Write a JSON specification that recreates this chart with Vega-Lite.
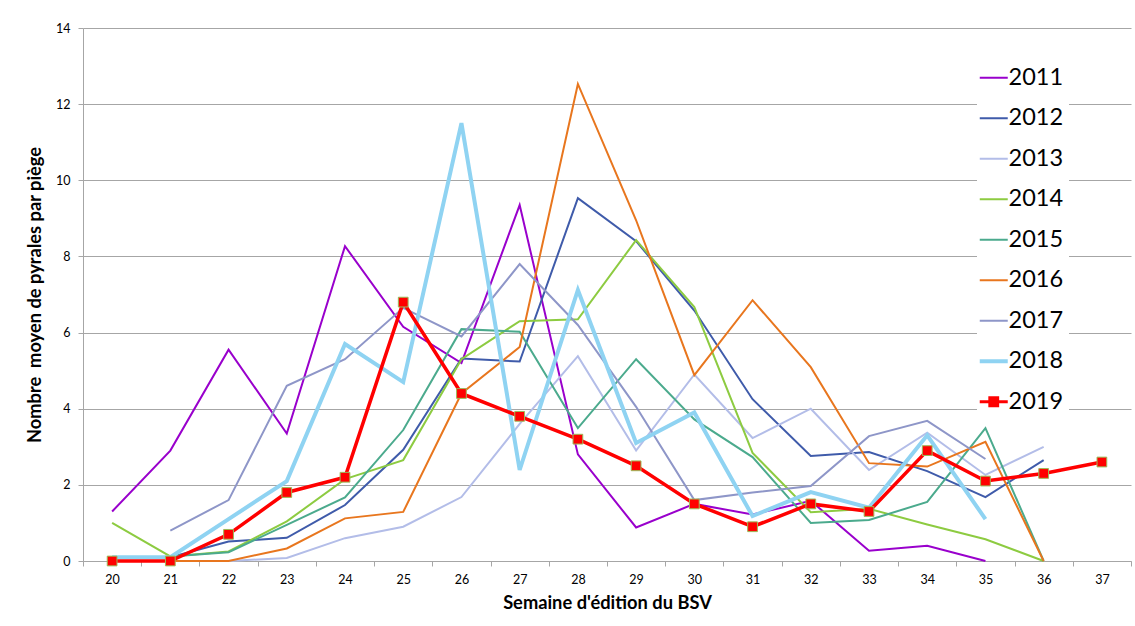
{
 "$schema": "https://vega.github.io/schema/vega-lite/v6.json",
 "width": 1048, "height": 533,
 "autosize": {"type": "none"},
 "padding": {"left": 83, "top": 28, "right": 4, "bottom": 65},
 "background": "white",
 "config": {"view": {"stroke": null}, "font": "Lato"},
 "datasets": {
  "d": [
   {"year":"2011","week":20,"value":1.3},{"year":"2011","week":21,"value":2.9},{"year":"2011","week":22,"value":5.55},{"year":"2011","week":23,"value":3.35},{"year":"2011","week":24,"value":8.27},{"year":"2011","week":25,"value":6.15},{"year":"2011","week":26,"value":5.2},{"year":"2011","week":27,"value":9.35},{"year":"2011","week":28,"value":2.8},{"year":"2011","week":29,"value":0.88},{"year":"2011","week":30,"value":1.5},{"year":"2011","week":31,"value":1.22},{"year":"2011","week":32,"value":1.58},{"year":"2011","week":33,"value":0.27},{"year":"2011","week":34,"value":0.4},{"year":"2011","week":35,"value":0},
   {"year":"2012","week":21,"value":0.1},{"year":"2012","week":22,"value":0.51},{"year":"2012","week":23,"value":0.61},{"year":"2012","week":24,"value":1.47},{"year":"2012","week":25,"value":2.92},{"year":"2012","week":26,"value":5.32},{"year":"2012","week":27,"value":5.24},{"year":"2012","week":28,"value":9.53},{"year":"2012","week":29,"value":8.4},{"year":"2012","week":30,"value":6.58},{"year":"2012","week":31,"value":4.25},{"year":"2012","week":32,"value":2.76},{"year":"2012","week":33,"value":2.86},{"year":"2012","week":34,"value":2.36},{"year":"2012","week":35,"value":1.68},{"year":"2012","week":36,"value":2.65},
   {"year":"2013","week":21,"value":0},{"year":"2013","week":22,"value":0},{"year":"2013","week":23,"value":0.08},{"year":"2013","week":24,"value":0.6},{"year":"2013","week":25,"value":0.9},{"year":"2013","week":26,"value":1.68},{"year":"2013","week":27,"value":3.6},{"year":"2013","week":28,"value":5.38},{"year":"2013","week":29,"value":2.9},{"year":"2013","week":30,"value":4.9},{"year":"2013","week":31,"value":3.23},{"year":"2013","week":32,"value":4.0},{"year":"2013","week":33,"value":2.39},{"year":"2013","week":34,"value":3.37},{"year":"2013","week":35,"value":2.26},{"year":"2013","week":36,"value":3.0},
   {"year":"2014","week":20,"value":1.0},{"year":"2014","week":21,"value":0.12},{"year":"2014","week":22,"value":0.25},{"year":"2014","week":23,"value":1.04},{"year":"2014","week":24,"value":2.15},{"year":"2014","week":25,"value":2.65},{"year":"2014","week":26,"value":5.3},{"year":"2014","week":27,"value":6.3},{"year":"2014","week":28,"value":6.35},{"year":"2014","week":29,"value":8.43},{"year":"2014","week":30,"value":6.67},{"year":"2014","week":31,"value":2.84},{"year":"2014","week":32,"value":1.28},{"year":"2014","week":33,"value":1.37},{"year":"2014","week":34,"value":0.96},{"year":"2014","week":35,"value":0.57},{"year":"2014","week":36,"value":0},
   {"year":"2015","week":21,"value":0.12},{"year":"2015","week":22,"value":0.23},{"year":"2015","week":23,"value":0.95},{"year":"2015","week":24,"value":1.67},{"year":"2015","week":25,"value":3.44},{"year":"2015","week":26,"value":6.09},{"year":"2015","week":27,"value":6.02},{"year":"2015","week":28,"value":3.49},{"year":"2015","week":29,"value":5.3},{"year":"2015","week":30,"value":3.72},{"year":"2015","week":31,"value":2.73},{"year":"2015","week":32,"value":1.0},{"year":"2015","week":33,"value":1.08},{"year":"2015","week":34,"value":1.55},{"year":"2015","week":35,"value":3.49},{"year":"2015","week":36,"value":0},
   {"year":"2016","week":21,"value":0},{"year":"2016","week":22,"value":0},{"year":"2016","week":23,"value":0.33},{"year":"2016","week":24,"value":1.12},{"year":"2016","week":25,"value":1.29},{"year":"2016","week":26,"value":4.4},{"year":"2016","week":27,"value":5.62},{"year":"2016","week":28,"value":12.53},{"year":"2016","week":29,"value":8.95},{"year":"2016","week":30,"value":4.88},{"year":"2016","week":31,"value":6.85},{"year":"2016","week":32,"value":5.09},{"year":"2016","week":33,"value":2.57},{"year":"2016","week":34,"value":2.48},{"year":"2016","week":35,"value":3.13},{"year":"2016","week":36,"value":0},
   {"year":"2017","week":21,"value":0.8},{"year":"2017","week":22,"value":1.6},{"year":"2017","week":23,"value":4.6},{"year":"2017","week":24,"value":5.3},{"year":"2017","week":25,"value":6.65},{"year":"2017","week":26,"value":5.9},{"year":"2017","week":27,"value":7.8},{"year":"2017","week":28,"value":6.2},{"year":"2017","week":29,"value":4.05},{"year":"2017","week":30,"value":1.6},{"year":"2017","week":31,"value":1.8},{"year":"2017","week":32,"value":1.97},{"year":"2017","week":33,"value":3.28},{"year":"2017","week":34,"value":3.68},{"year":"2017","week":35,"value":2.68},
   {"year":"2018","week":20,"value":0.1},{"year":"2018","week":21,"value":0.1},{"year":"2018","week":22,"value":1.1},{"year":"2018","week":23,"value":2.1},{"year":"2018","week":24,"value":5.7},{"year":"2018","week":25,"value":4.7},{"year":"2018","week":26,"value":11.5},{"year":"2018","week":27,"value":2.39},{"year":"2018","week":28,"value":7.12},{"year":"2018","week":29,"value":3.1},{"year":"2018","week":30,"value":3.9},{"year":"2018","week":31,"value":1.18},{"year":"2018","week":32,"value":1.81},{"year":"2018","week":33,"value":1.4},{"year":"2018","week":34,"value":3.3},{"year":"2018","week":35,"value":1.1},
   {"year":"2019","week":20,"value":0},{"year":"2019","week":21,"value":0},{"year":"2019","week":22,"value":0.7},{"year":"2019","week":23,"value":1.8},{"year":"2019","week":24,"value":2.2},{"year":"2019","week":25,"value":6.8},{"year":"2019","week":26,"value":4.4},{"year":"2019","week":27,"value":3.8},{"year":"2019","week":28,"value":3.2},{"year":"2019","week":29,"value":2.5},{"year":"2019","week":30,"value":1.5},{"year":"2019","week":31,"value":0.9},{"year":"2019","week":32,"value":1.5},{"year":"2019","week":33,"value":1.3},{"year":"2019","week":34,"value":2.9},{"year":"2019","week":35,"value":2.1},{"year":"2019","week":36,"value":2.3},{"year":"2019","week":37,"value":2.6}
  ]
 },
 "data": {"name": "d"},
 "encoding": {
  "x": {"field": "week", "type": "ordinal", "bandPosition": 0.5,
   "scale": {"type": "band", "paddingInner": 0, "paddingOuter": 0, "domain": [20,21,22,23,24,25,26,27,28,29,30,31,32,33,34,35,36,37]},
   "axis": {"title": "Semaine d'édition du BSV", "labelAngle": 0, "tickBand": "extent", "grid": false,
    "domainColor": "#A6A6A6", "tickColor": "#A6A6A6", "tickSize": 5, "labelPadding": 7,
    "labelFont": "Lato", "labelFontSize": 12.5, "labelColor": "black",
    "titleFont": "Lato", "titleFontSize": 18.3, "titleFontWeight": "bold", "titleColor": "black", "titlePadding": 9}},
  "y": {"field": "value", "type": "quantitative", "scale": {"domain": [0, 14], "nice": false},
   "axis": {"title": "Nombre\u00a0 moyen de pyrales par piège", "values": [0,2,4,6,8,10,12,14], "grid": true,
    "gridColor": "#A6A6A6", "domainColor": "#A6A6A6", "tickColor": "#A6A6A6", "tickSize": 5, "labelPadding": 8,
    "labelFont": "Lato", "labelFontSize": 12.5, "labelColor": "black",
    "titleFont": "Lato", "titleFontSize": 18.3, "titleFontWeight": "bold", "titleColor": "black", "titlePadding": 11}},
  "color": {"field": "year", "type": "nominal",
   "scale": {"domain": ["2011","2012","2013","2014","2015","2016","2017","2018","2019"],
    "range": ["#9900CC","#3F5BAA","#B3BDE8","#8DCB41","#4BAA8D","#E8761E","#8E96C8","#8FD3F2","#FF0000"]},
   "legend": {"title": null, "orient": "none", "legendX": 894, "legendY": 33, "symbolType": "stroke", "symbolSize": 784,
    "symbolStrokeWidth": 2, "rowPadding": 15.5, "labelOffset": 3, "labelFont": "Lato", "labelFontSize": 23.5, "labelColor": "black",
    "fillColor": "white", "padding": 5, "labelLimit": 200,
    "encode": {"symbols": {"update": {
     "strokeWidth": {"signal": "datum.value == '2018' ? 4 : datum.value == '2019' ? 3 : 2"},
     "shape": {"signal": "datum.value == '2019' ? 'M-1,0H1M-0.28,-0.28H0.28V0.28H-0.28Z' : 'stroke'"},
     "fill": {"signal": "datum.value == '2019' ? '#FF0000' : 'transparent'"}}}}}}
 },
 "layer": [
  {"transform": [{"filter": "datum.year != '2018' && datum.year != '2019'"}], "mark": {"type": "line", "strokeWidth": 2}},
  {"transform": [{"filter": "datum.year == '2018'"}], "mark": {"type": "line", "strokeWidth": 4}},
  {"transform": [{"filter": "datum.year == '2019'"}], "mark": {"type": "line", "strokeWidth": 3.5}},
  {"transform": [{"filter": "datum.year == '2019'"}], "mark": {"type": "point", "shape": "square", "filled": true, "size": 95, "stroke": "#9BBB59", "strokeWidth": 1, "opacity": 1},
   "encoding": {"color": {"value": "#FF0000"}}}
 ]
}
